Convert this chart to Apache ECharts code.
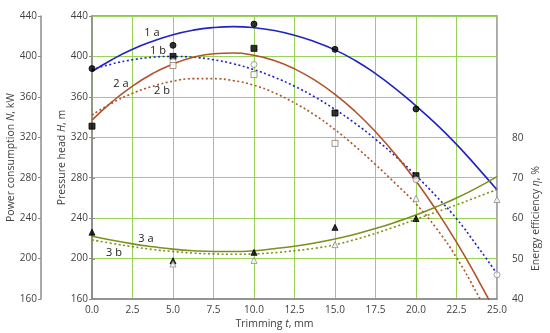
<!DOCTYPE html>
<html><head><meta charset="utf-8">
<script src="https://cdn.jsdelivr.net/npm/echarts@6/dist/echarts.min.js"></script>
<style>html,body{margin:0;padding:0;background:#fff}#c{width:550px;height:333px}</style>
</head><body><div id="c"></div>
<script>
// Trimming t, mm (curve sample positions)
const trimming = [0,1.25,2.5,3.75,5,6.25,7.5,8.75,10,11.25,12.5,13.75,15,16.25,17.5,18.75,20,21.25,22.5,23.75,25];
// Curves
const curve1a = [385,397,407,415,421.5,426,428.6,429.5,428.5,425.7,421,414.5,406.5,396,383,368,351,333,313,291,268];
const curve1b = [386.9,392.6,396.7,399.2,400,399.2,396.7,392.6,386.9,379.5,370.5,359.9,347.6,333.7,318.1,300.9,282.1,261.6,239.5,213,185];
const curve2a = [337,355.3,370.7,383.1,392.6,399.1,402.7,403.4,401.1,395.9,387.7,376.5,362.5,345.5,325.5,302.6,276.7,247.9,216.2,181.5,143.9];
const curve2b = [342,354,363.5,370.5,375.5,378,378,376,371.5,364,354,342,327.5,311,293,274,254,230,201,166,128];
const curve3a = [55.6,54.6,53.7,53.0,52.4,52.0,51.8,51.8,52.0,52.5,53.1,53.9,54.9,56.1,57.5,59.1,60.9,62.9,65.1,67.6,70.4];
const curve3b = [54.7,53.8,53.0,52.3,51.8,51.4,51.2,51.1,51.2,51.5,52.0,52.6,53.5,54.8,56.3,58.0,59.8,61.6,63.4,65.3,67.2];
// Measured points
const pt1aT = [0,5,10,15,20];       const pt1a = [388,411,432,407,348];
const pt2aT = [0,5,10,15,20];       const pt2a = [331,400,408,344,282];
const pt1bT = [5,10,20,25];         const pt1b = [395,392,278,184];
const pt2bT = [5,10,15];            const pt2b = [391,382,314];
const pt3aT = [0,5,10,15,20];       const pt3a = [56.6,49.5,51.6,57.8,60];
const pt3bT = [5,10,15,20,25];      const pt3b = [48.7,49.6,53.5,65,64.7];
// Axis ticks
const headTicks = {min:160, max:440, step:40};
const effTicks = {min:40, max:80, step:10};
const tTicks = {min:0, max:25, step:2.5};
const curveLabels = ['1 a','1 b','2 a','2 b','3 a','3 b'];

const pair = (xs, ys) => xs.map((x,i)=>[x, ys[i]]);
const FONT = 'Open Sans';
const TXT = '#404040';
const GRID = '#9ad35a';
const AX = '#8c8c8c';
const BLUE = '#2222c4', BROWN = '#b0522a', OLIVE = '#7f8f1c';

const chart = echarts.init(document.getElementById('c'), null, {renderer:'canvas'});
const lineS = (data, color, dotted, yi, xi) => ({
  type:'line', data: pair(trimming, data), smooth:true, showSymbol:false, symbol:'none',
  xAxisIndex: xi||0, yAxisIndex: yi, z: 3,
  lineStyle:{color, width: 1.6, type: dotted?[2,2.5]:'solid'}
});
const ptS = (xs, ys, symbol, fill, stroke, size, yi, xi) => ({
  type:'scatter', data: pair(xs, ys), symbol, symbolSize: size,
  xAxisIndex: xi||0, yAxisIndex: yi, z: 5,
  itemStyle:{color: fill, borderColor: stroke, borderWidth: 1}
});
const nameStyle = {fontFamily: FONT, fontSize: 10.5, color: TXT,
  rich:{i:{fontFamily: FONT, fontSize: 10.5, color: TXT, fontStyle:'italic'}}};
const lbl = {fontFamily: FONT, fontSize: 10, color: TXT};

chart.setOption({
  animation:false,
  grid:[
    {left:92, right:53, top:16, bottom:34, show:true, borderColor:AX, borderWidth:1.5, backgroundColor:'#fff', containLabel:false, outerBoundsMode:'none'},
    {left:92, right:53, top:138, bottom:34, show:false, containLabel:false, outerBoundsMode:'none'}
  ],
  xAxis:[
    {gridIndex:0, type:'value', min:tTicks.min, max:tTicks.max, interval:tTicks.step,
     name:'Trimming {i|t}, mm', nameLocation:'middle', nameGap:20, nameMoveOverlap:false,
     nameTextStyle: Object.assign({}, nameStyle, {padding:[0,40,0,0]}),
     axisLine:{show:true, lineStyle:{color:AX, width:1.5}}, axisTick:{show:false},
     axisLabel: Object.assign({margin:6, formatter: v => v.toFixed(1)}, lbl),
     splitLine:{show:true, lineStyle:{color:GRID, width:1}}},
    {gridIndex:1, type:'value', min:tTicks.min, max:tTicks.max, show:false}
  ],
  yAxis:[
    {gridIndex:0, type:'value', min:headTicks.min, max:headTicks.max, interval:headTicks.step, position:'left',
     name:'Pressure head {i|H}, m', nameLocation:'middle', nameGap:24, nameRotate:90, nameMoveOverlap:false, nameTextStyle:nameStyle,
     axisLine:{show:true, lineStyle:{color:AX, width:1.5}}, axisTick:{show:true, length:3, lineStyle:{color:AX}},
     axisLabel: Object.assign({margin:4}, lbl),
     splitLine:{show:true, lineStyle:{color:GRID, width:1}}},
    {gridIndex:0, type:'value', min:headTicks.min, max:headTicks.max, interval:headTicks.step, position:'left', offset:51,
     name:'Power consumption {i|N}, kW', nameLocation:'middle', nameGap:24, nameRotate:90, nameMoveOverlap:false, nameTextStyle:nameStyle,
     axisLine:{show:true, lineStyle:{color:AX, width:1.5}}, axisTick:{show:true, length:3, lineStyle:{color:AX}},
     axisLabel: Object.assign({margin:4}, lbl),
     splitLine:{show:false}},
    {gridIndex:1, type:'value', min:effTicks.min, max:effTicks.max, interval:effTicks.step, position:'right', offset:10,
     name:'Energy efficiency {i|η}, %', nameLocation:'middle', nameGap:24, nameRotate:90, nameMoveOverlap:false, nameTextStyle:nameStyle,
     axisLine:{show:true, lineStyle:{color:AX, width:1.5}}, axisTick:{show:true, length:3, lineStyle:{color:AX}},
     axisLabel: Object.assign({margin:5}, lbl),
     splitLine:{show:false}}
  ],
  series:[
    lineS(curve1a, BLUE, false, 0),
    lineS(curve1b, BLUE, true, 0),
    lineS(curve2a, BROWN, false, 0),
    lineS(curve2b, BROWN, true, 0),
    lineS(curve3a, OLIVE, false, 2, 1),
    lineS(curve3b, OLIVE, true, 2, 1),
    ptS(pt1aT, pt1a, 'circle', '#000', '#000', 6, 0),
    ptS(pt2aT, pt2a, 'rect', '#000', '#000', 6, 0),
    ptS(pt1bT, pt1b, 'circle', '#fff', '#8a8a8a', 6, 0),
    ptS(pt2bT, pt2b, 'rect', '#fff', '#8a7a6a', 6, 0),
    ptS(pt3aT, pt3a, 'triangle', '#000', '#000', 6, 2, 1),
    ptS(pt3bT, pt3b, 'triangle', '#fff', '#8a8a8a', 6, 2, 1)
  ],
  graphic:[
    {type:'text', x:152, y:33, style:{text:curveLabels[0], font:'11px "Open Sans"', fill:'#222', align:'center', verticalAlign:'middle'}},
    {type:'text', x:158, y:51, style:{text:curveLabels[1], font:'11px "Open Sans"', fill:'#222', align:'center', verticalAlign:'middle'}},
    {type:'text', x:121, y:84, style:{text:curveLabels[2], font:'11px "Open Sans"', fill:'#222', align:'center', verticalAlign:'middle'}},
    {type:'text', x:162, y:91, style:{text:curveLabels[3], font:'11px "Open Sans"', fill:'#222', align:'center', verticalAlign:'middle'}},
    {type:'text', x:146, y:239, style:{text:curveLabels[4], font:'11px "Open Sans"', fill:'#222', align:'center', verticalAlign:'middle'}},
    {type:'text', x:114, y:253, style:{text:curveLabels[5], font:'11px "Open Sans"', fill:'#222', align:'center', verticalAlign:'middle'}}
  ]
});
</script></body></html>
